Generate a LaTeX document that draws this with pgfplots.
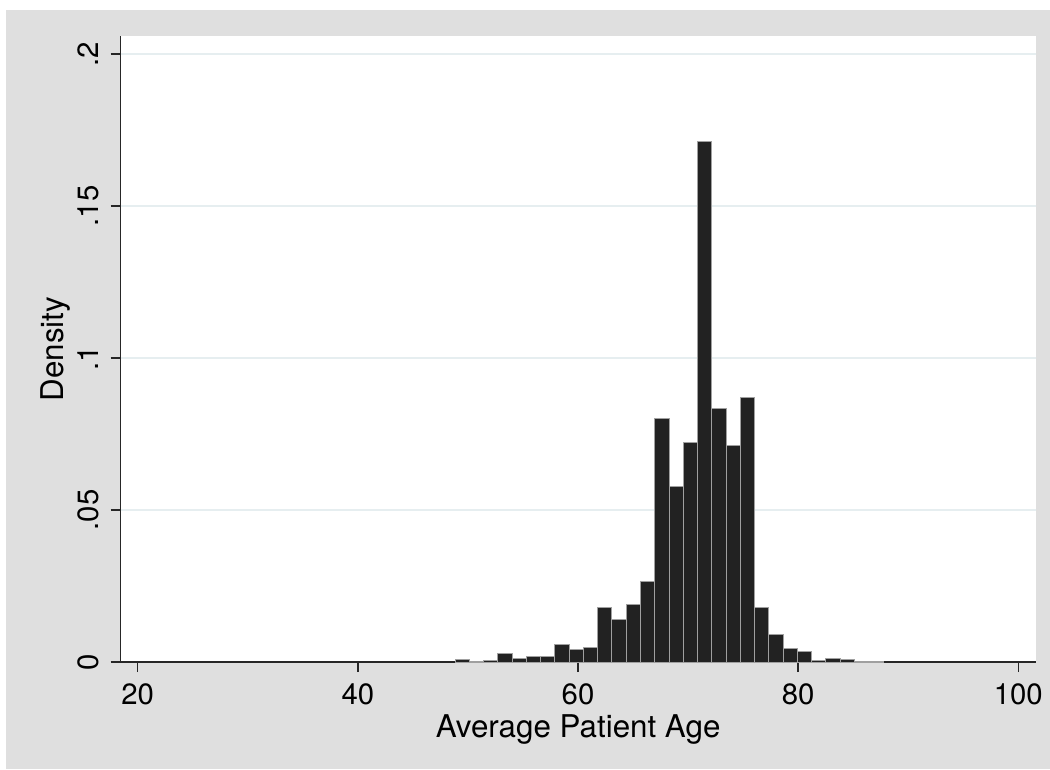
\documentclass[border=0pt]{standalone}
\usepackage{fontspec}
\setmainfont{TeX Gyre Heros}
\usepackage{pgfplots}
\pgfplotsset{compat=1.18}
\definecolor{bggray}{HTML}{DFDFDF}
\definecolor{gridc}{HTML}{E6EEF0}
\definecolor{barfill}{HTML}{222222}
\definecolor{barline}{HTML}{A0A0A0}

% bin left edges (last row closes the final bin), density
\pgfplotstableread{
x y
48.830 0.0008
50.126 0.0003
51.422 0.0006
52.718 0.0027
54.014 0.0013
55.310 0.0017
56.606 0.0017
57.902 0.0058
59.198 0.0040
60.494 0.0049
61.790 0.0178
63.086 0.0141
64.382 0.0190
65.678 0.0264
66.974 0.0801
68.270 0.0578
69.566 0.0722
70.862 0.1712
72.158 0.0834
73.454 0.0713
74.750 0.0870
76.046 0.0178
77.342 0.0090
78.638 0.0044
79.934 0.0036
81.230 0.0005
82.526 0.0010
83.822 0.0008
85.118 0.0002
86.414 0.0002
87.710 0.0002
}\hist

\begin{document}
\begin{tikzpicture}
\useasboundingbox (0,0) rectangle (315pt,230.7pt);
\fill[white] (0,0) rectangle (315pt,230.7pt);
\fill[bggray] (1.8pt,0) rectangle (315pt,227.7pt);
\begin{axis}[
  at={(36.21pt,32.1pt)}, anchor=south west,
  scale only axis, width=274.5pt, height=187.8pt,
  axis background/.style={fill=white},
  xmin=18.456, xmax=101.58, ymin=0, ymax=0.2059,
  axis x line=bottom, axis y line=left,
  axis line style={-, black!85, line width=0.45pt},
  tick align=outside, major tick length=3pt,
  tick style={black!85, line width=0.45pt},
  xtick={20,40,60,80,100}, xticklabels={20,40,60,80,100},
  ytick={0,0.05,0.1,0.15,0.2}, yticklabels={0,.05,.1,.15,.2},
  ymajorgrids, grid style={gridc, line width=0.5pt},
  ticklabel style={font=\fontsize{8.8}{10}\selectfont},
  yticklabel style={rotate=90, anchor=south},
  xlabel={Average Patient Age}, ylabel={Density},
  label style={font=\fontsize{9.4}{11}\selectfont},
  xlabel style={yshift=4pt},
  ylabel style={yshift=-4.6pt},
]
  \addplot[ybar interval, fill=barfill, draw=barline, line width=0.3pt] table[x=x,y=y] {\hist};
\end{axis}
\end{tikzpicture}
\end{document}
